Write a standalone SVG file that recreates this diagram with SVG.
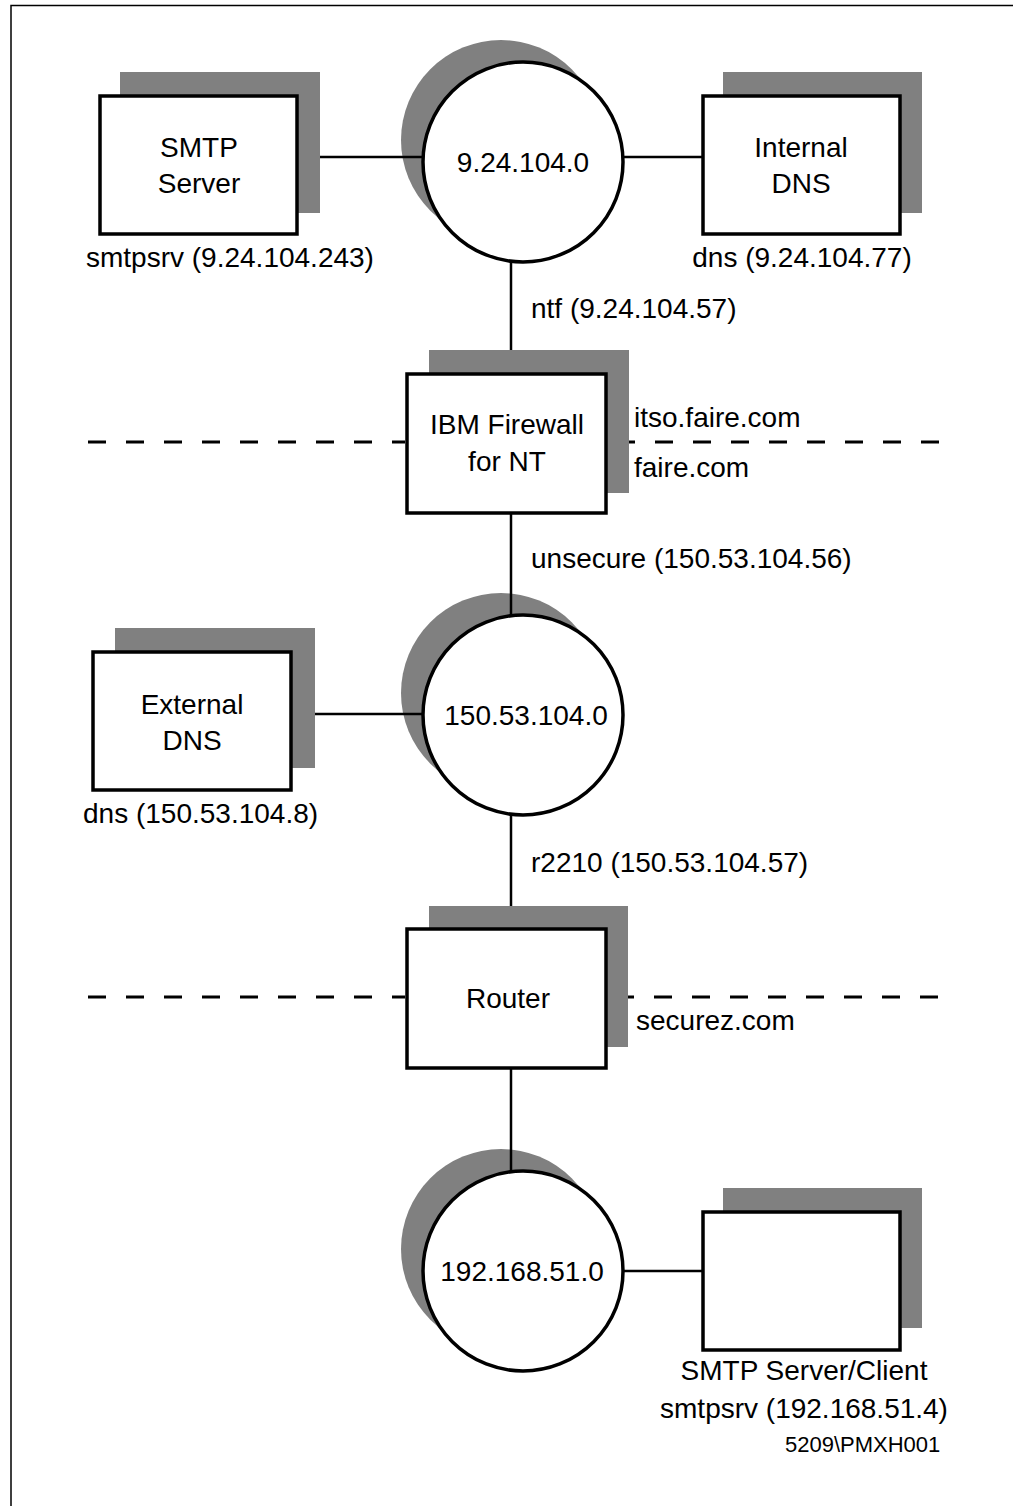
<svg xmlns="http://www.w3.org/2000/svg" width="1013" height="1506" viewBox="0 0 1013 1506">
<style>
.sh{fill:#808080}
.bx{fill:#fff;stroke:#000;stroke-width:3.5}
.ln{stroke:#000;stroke-width:2.5;fill:none}
.ds{stroke:#000;stroke-width:3;stroke-dasharray:18 20;fill:none}
text{font-family:"Liberation Sans",Arial,sans-serif;font-size:28px;fill:#000}
.c{text-anchor:middle}
.sm{font-size:22px}
</style>
<rect x="11" y="5.5" width="1010" height="1510" fill="#fff" stroke="#000" stroke-width="1.5"/>
<g id="smtp-server">
<rect class="sh" x="120" y="72" width="200" height="141"/>
<rect class="bx" x="100" y="96" width="197" height="138"/>
<text class="c" x="199" y="157">SMTP</text>
<text class="c" x="199" y="193">Server</text>
<text x="86" y="267">smtpsrv (9.24.104.243)</text>
</g>
<g id="net-9-24-104-0">
<circle class="sh" cx="501" cy="140" r="100"/>
<circle class="bx" cx="523" cy="162" r="100"/>
<text class="c" x="523" y="172">9.24.104.0</text>
</g>
<g id="internal-dns">
<rect class="sh" x="723" y="72" width="199" height="141"/>
<rect class="bx" x="703" y="96" width="197" height="138"/>
<text class="c" x="801" y="157">Internal</text>
<text class="c" x="801" y="193">DNS</text>
<text class="c" x="802" y="267">dns (9.24.104.77)</text>
</g>
<text x="531" y="318">ntf (9.24.104.57)</text>
<g id="firewall">
<rect class="sh" x="429" y="350" width="200" height="143"/>
<rect class="bx" x="407" y="374" width="199" height="139"/>
<text class="c" x="507" y="434">IBM Firewall</text>
<text class="c" x="507" y="471">for NT</text>
</g>
<text x="634" y="427">itso.faire.com</text>
<text x="634" y="477">faire.com</text>
<text x="531" y="568">unsecure (150.53.104.56)</text>
<g id="external-dns">
<rect class="sh" x="115" y="628" width="200" height="140"/>
<rect class="bx" x="93" y="652" width="198" height="138"/>
<text class="c" x="192" y="714">External</text>
<text class="c" x="192" y="750">DNS</text>
<text x="83" y="823">dns (150.53.104.8)</text>
</g>
<g id="net-150-53-104-0">
<circle class="sh" cx="501" cy="693" r="100"/>
<circle class="bx" cx="523" cy="715" r="100"/>
<text class="c" x="526" y="725">150.53.104.0</text>
</g>
<text x="531" y="872">r2210 (150.53.104.57)</text>
<g id="router">
<rect class="sh" x="429" y="906" width="199" height="141"/>
<rect class="bx" x="407" y="929" width="199" height="139"/>
<text class="c" x="508" y="1008">Router</text>
</g>
<text x="636" y="1030">securez.com</text>
<g id="net-192-168-51-0">
<circle class="sh" cx="501" cy="1249" r="100"/>
<circle class="bx" cx="523" cy="1271" r="100"/>
<text class="c" x="522" y="1281">192.168.51.0</text>
</g>
<g id="smtp-server-client">
<rect class="sh" x="723" y="1188" width="199" height="140"/>
<rect class="bx" x="703" y="1212" width="197" height="138"/>
<text class="c" x="804" y="1380">SMTP Server/Client</text>
<text class="c" x="804" y="1418">smtpsrv (192.168.51.4)</text>
</g>
<text class="sm" x="785" y="1452">5209\PMXH001</text>
<g id="connectors">
<line class="ds" x1="88" y1="442" x2="405" y2="442"/>
<line class="ds" x1="629" y1="442" x2="942" y2="442" stroke-dashoffset="12"/>
<line class="ds" x1="88" y1="997" x2="405" y2="997"/>
<line class="ds" x1="628" y1="997" x2="942" y2="997" stroke-dashoffset="12"/>
<line class="ln" x1="320" y1="157" x2="422" y2="157"/>
<line class="ln" x1="624" y1="157" x2="703" y2="157"/>
<line class="ln" x1="511" y1="262" x2="511" y2="350"/>
<line class="ln" x1="511" y1="513" x2="511" y2="616"/>
<line class="ln" x1="315" y1="714" x2="422" y2="714"/>
<line class="ln" x1="511" y1="815" x2="511" y2="906"/>
<line class="ln" x1="511" y1="1068" x2="511" y2="1171"/>
<line class="ln" x1="624" y1="1271" x2="703" y2="1271"/>
</g>
</svg>
